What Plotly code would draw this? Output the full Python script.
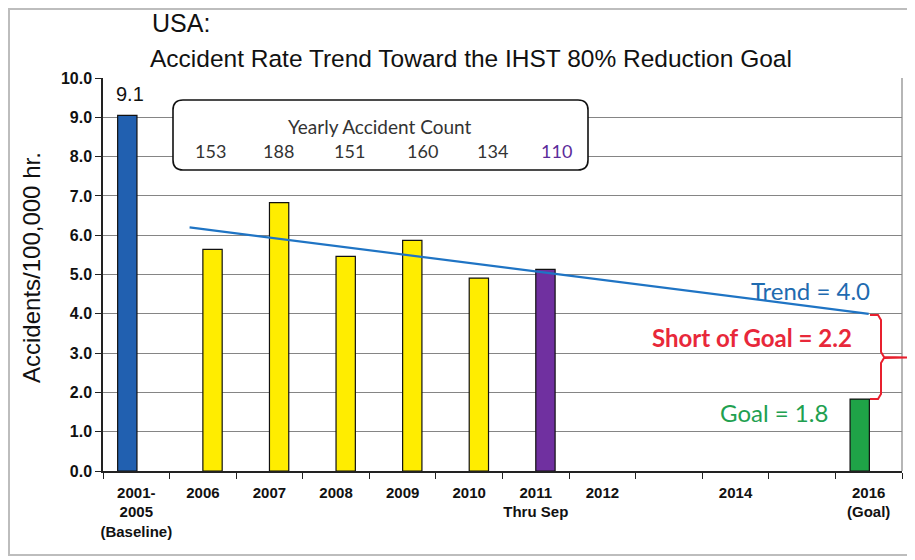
import plotly.graph_objects as go

# ---------------- data ----------------
tick_labels = ["2001-<br>2005<br>(Baseline)", "2006", "2007", "2008", "2009", "2010",
               "2011<br>Thru Sep", "2012", "", "2014", "", "2016<br>(Goal)"]
positions = list(range(len(tick_labels)))

# baseline / goal series
ref_x = [0, 11]
ref_rates = [9.05, 1.83]
ref_colors = ["#2160B0", "#1FA347"]

# yearly rates
year_x = [1, 2, 3, 4, 5, 6]
year_rates = [5.64, 6.83, 5.46, 5.87, 4.91, 5.13]
year_colors = ["#FFED00"] * 5 + ["#7030A0"]

yearly_counts = ["153", "188", "151", "160", "134", "110"]
count_colors = ["#333333"] * 5 + ["#5B2C9A"]

trend_x = [0.8, 11]
trend_y = [6.2, 4.0]

# ---------------- layout helpers (page coords include 8px body margin) ----------------
OX, OY = 8, 8
W, H = 907, 552
L, R, T, B = 95, 13, 70, 89
PW, PH = W - L - R, H - T - B


def px(x):
    return (x - OX - L) / PW


def py(y):
    return (H - B - (y - OY)) / PH


fig = go.Figure()
fig.add_trace(go.Bar(x=ref_x, y=ref_rates, width=0.29, offset=-0.28,
                     marker=dict(color=ref_colors, line=dict(color="#111", width=1.2)),
                     showlegend=False, hoverinfo="y"))
fig.add_trace(go.Bar(x=year_x, y=year_rates, width=0.29, offset=0.0,
                     marker=dict(color=year_colors, line=dict(color="#111", width=1.2)),
                     showlegend=False, hoverinfo="y"))
fig.add_trace(go.Scatter(x=trend_x, y=trend_y, mode="lines", line=dict(color="#1F74C4", width=2.2),
                         showlegend=False, hoverinfo="skip"))

fig.update_layout(
    width=W, height=H,
    margin=dict(l=L, r=R, t=T, b=B),
    paper_bgcolor="white", plot_bgcolor="white",
    barmode="overlay",
    font=dict(family="Liberation Sans, Arial, sans-serif", color="#111"),
)
fig.update_xaxes(
    range=[-0.5, 11.5], tickmode="array", tickvals=positions, ticktext=tick_labels,
    ticks="", showgrid=False, zeroline=False,
    showline=True, linecolor="#222", linewidth=1.5,
    tickfont=dict(size=15, family="Liberation Sans, Arial", color="#111", weight="bold"),
    ticklabelstandoff=7,
    minor=dict(tickmode="array", tickvals=[p - 0.5 for p in positions] + [11.5], ticks="outside",
               ticklen=6, tickcolor="#222", tickwidth=1.2, showgrid=False),
)
fig.update_yaxes(
    range=[0, 10], dtick=1, tickformat=".1f", ticks="outside", ticklen=6, tickcolor="#222",
    showgrid=True, gridcolor="#858585", gridwidth=1, zeroline=False,
    showline=True, linecolor="#222", linewidth=1.5,
    tickfont=dict(size=16, family="Liberation Sans, Arial", color="#111", weight="bold"),
    ticklabelstandoff=0,
)

shapes = []
# outer frame
shapes.append(dict(type="rect", xref="paper", yref="paper", x0=px(9), x1=px(912), y0=py(555), y1=py(9),
                   line=dict(color="#BDBDBD", width=2), layer="below"))
# plot right frame
shapes.append(dict(type="line", xref="paper", yref="paper", x0=1, x1=1, y0=0, y1=1,
                   line=dict(color="#858585", width=1.2)))
# yearly count rounded box
x0b, x1b, y0b, y1b, r = 173, 588, 100, 170, 10
path = (f"M {px(x0b + r)},{py(y0b)} L {px(x1b - r)},{py(y0b)} Q {px(x1b)},{py(y0b)} {px(x1b)},{py(y0b + r)} "
        f"L {px(x1b)},{py(y1b - r)} Q {px(x1b)},{py(y1b)} {px(x1b - r)},{py(y1b)} "
        f"L {px(x0b + r)},{py(y1b)} Q {px(x0b)},{py(y1b)} {px(x0b)},{py(y1b - r)} "
        f"L {px(x0b)},{py(y0b + r)} Q {px(x0b)},{py(y0b)} {px(x0b + r)},{py(y0b)} Z")
shapes.append(dict(type="path", xref="paper", yref="paper", path=path,
                   fillcolor="white", line=dict(color="#111", width=1.6), layer="above"))
# red brace
bp = [(870, 315), (878, 315), (881, 320), (881, 352), (884, 357), (910, 357.5),
      (884, 358), (881, 363), (881, 394), (878, 399), (870, 399)]
bpath = "M " + " L ".join(f"{px(a)},{py(b)}" for a, b in bp)
shapes.append(dict(type="path", xref="paper", yref="paper", path=bpath,
                   line=dict(color="#E8202E", width=2), layer="above"))
fig.update_layout(shapes=shapes)

ann = []
ann.append(dict(text="Accidents/100,000 hr.", x=px(31), y=py(268), xref="paper", yref="paper",
                xanchor="center", yanchor="middle", textangle=-90, showarrow=False,
                font=dict(size=24, color="#111", family="Liberation Sans, Arial")))
ann.append(dict(text="USA:", x=px(150), y=py(23), xref="paper", yref="paper", xanchor="left",
                yanchor="middle", showarrow=False, font=dict(size=25, color="#111", family="Liberation Sans, Arial")))
ann.append(dict(text="Accident Rate Trend Toward the IHST 80% Reduction Goal", x=px(148), y=py(58),
                xref="paper", yref="paper", xanchor="left", yanchor="middle", showarrow=False,
                font=dict(size=24.5, color="#111", family="Liberation Sans, Arial")))
ann.append(dict(text="9.1", x=ref_x[0], y=ref_rates[0], xref="x", yref="y", xshift=-6, yshift=8,
                xanchor="center", yanchor="bottom", showarrow=False,
                font=dict(size=20, color="#111", family="Liberation Sans, Arial")))
ann.append(dict(text="Yearly Accident Count", x=px(380), y=py(126), xref="paper", yref="paper",
                xanchor="center", yanchor="middle", showarrow=False,
                font=dict(size=19, color="#333", family="Lato, Open Sans")))
count_px = [210, 278, 349, 422, 492, 556]
for c, cc, xp in zip(yearly_counts, count_colors, count_px):
    ann.append(dict(text=c, x=px(xp), y=py(151), xref="paper", yref="paper", xanchor="center", yanchor="middle",
                    showarrow=False, font=dict(size=18, color=cc, family="Lato, Open Sans")))
ann.append(dict(text="Trend = 4.0", x=px(872), y=py(290), xref="paper", yref="paper", xanchor="right",
                yanchor="middle", showarrow=False, font=dict(size=24, color="#1F6BB0", family="Lato, Open Sans")))
ann.append(dict(text="<b>Short of Goal = 2.2</b>", x=px(854), y=py(338), xref="paper", yref="paper",
                xanchor="right", yanchor="middle", showarrow=False,
                font=dict(size=24, color="#E8283A", family="Lato, Open Sans")))
ann.append(dict(text="Goal = 1.8", x=px(830), y=py(412), xref="paper", yref="paper", xanchor="right",
                yanchor="middle", showarrow=False, font=dict(size=24, color="#21A050", family="Lato, Open Sans")))
fig.update_layout(annotations=ann)

fig.write_html("out.html")
